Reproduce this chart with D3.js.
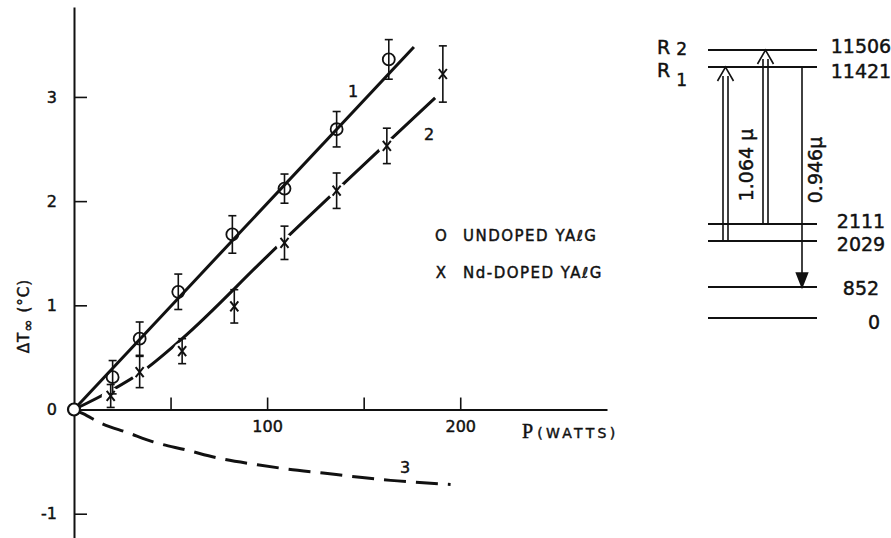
<!DOCTYPE html>
<html>
<head>
<meta charset="utf-8">
<script src="https://cdn.jsdelivr.net/npm/d3@7"></script>
<style>
  body { margin: 0; background: #fff; }
  svg text { font-family: "DejaVu Sans", sans-serif; fill: #111; stroke: #111; stroke-width: 0.45px; }
</style>
</head>
<body>
<div id="chart"></div>
<script>
// measured points, undoped YAlG (circles)
var undopedP   = [20, 34, 54, 82, 109, 136, 163];
var undopedT   = [0.31, 0.68, 1.13, 1.68, 2.12, 2.69, 3.36];
var undopedErr = [0.16, 0.16, 0.17, 0.18, 0.14, 0.17, 0.19];

// measured points, Nd-doped YAlG (crosses)
var ndP   = [19, 34, 56, 83, 109, 136, 162, 191];
var ndT   = [0.13, 0.36, 0.56, 0.99, 1.60, 2.10, 2.53, 3.22];
var ndErr = [0.11, 0.15, 0.12, 0.16, 0.16, 0.17, 0.17, 0.27];

// curves 1, 2, 3
var fit1P = [0, 176];
var fit1T = [0, 3.48];
var fit2P = [0, 20, 35, 56, 100, 187];
var fit2T = [0, 0.19, 0.36, 0.68, 1.47, 2.99];
var fit3P = [0, 4.7, 15, 27.5, 41, 58.5, 75.6, 95, 110, 129, 148, 164, 179, 195];
var fit3T = [0, -0.04, -0.14, -0.22, -0.31, -0.39, -0.47, -0.53, -0.57, -0.61, -0.65, -0.68, -0.70, -0.72];

var xTicks = [50, 100, 150, 200];
var xTickLabels = ["", "100", "", "200"];
var yTicks = [-1, 0, 1, 2, 3];
var yTickLabels = ["-1", "0", "1", "2", "3"];

var legendLabels = ["UNDOPED YA\u2113G", "Nd-DOPED YA\u2113G"];
var legendSymbols = ["O", "X"];

// energy levels (cm-1) for the Nd diagram
var levelValues = [11506, 11421, 2111, 2029, 852, 0];
var levelLabels = ["11506", "11421", "2111", "2029", "852", "0"];
var transFrom = [2029, 2111, 11421];
var transTo   = [11421, 11506, 852];
var transLabels = ["1.064 \u03bc", "", "0.946\u03bc"];

var width = 891, height = 538;

var svg = d3.select("#chart").append("svg")
    .attr("width", width)
    .attr("height", height);

var x = d3.scaleLinear().domain([0, 276]).range([74, 607]);
var y = d3.scaleLinear().domain([-1.233, 3.863]).range([538, 7]);

// axes
var xAxis = d3.axisBottom(x)
    .tickValues(xTicks)
    .tickSizeInner(-12)
    .tickSizeOuter(0)
    .tickPadding(11)
    .tickFormat(function(d, i) { return xTickLabels[i]; });

var gx = svg.append("g")
    .attr("transform", "translate(0," + y(0) + ")")
    .call(xAxis);
gx.select(".domain").attr("stroke-width", 2).attr("stroke", "#111");
gx.selectAll(".tick line").attr("stroke-width", 1.6).attr("stroke", "#111");
gx.selectAll(".tick text").style("font-size", "16px").attr("font-family", null);

var yAxis = d3.axisLeft(y)
    .tickValues(yTicks)
    .tickSizeInner(-13)
    .tickSizeOuter(0)
    .tickPadding(17)
    .tickFormat(function(d, i) { return yTickLabels[i]; });

var gy = svg.append("g")
    .attr("transform", "translate(" + x(0) + ",0)")
    .call(yAxis);
gy.select(".domain").attr("stroke-width", 2).attr("stroke", "#111");
gy.selectAll(".tick line").attr("stroke-width", 1.6).attr("stroke", "#111");
gy.selectAll(".tick text").style("font-size", "16px").attr("font-family", null);

// axis titles
var px = svg.append("text")
    .attr("x", 522).attr("y", 438);
px.append("tspan")
    .attr("font-family", "Liberation Serif, serif")
    .style("font-size", "20px")
    .text("P");
px.append("tspan")
    .attr("dx", 4)
    .style("font-size", "14px")
    .style("letter-spacing", "3.3px")
    .text("(WATTS)");

var yl = svg.append("text")
    .attr("transform", "translate(29,316) rotate(-90)")
    .attr("text-anchor", "middle")
    .style("font-size", "15px")
    .style("letter-spacing", "1px");
yl.append("tspan").text("\u0394T");
yl.append("tspan").attr("dy", 4).style("font-size", "15px").text("\u221e");
yl.append("tspan").attr("dy", -4).text(" (\u00b0C)");

// curves
var line = d3.line()
    .x(function(d) { return x(d[0]); })
    .y(function(d) { return y(d[1]); });
var curve = d3.line()
    .curve(d3.curveMonotoneX)
    .x(function(d) { return x(d[0]); })
    .y(function(d) { return y(d[1]); });

svg.append("path")
    .attr("d", line(d3.zip(fit1P, fit1T)))
    .attr("fill", "none").attr("stroke", "#111").attr("stroke-width", 3);

svg.append("path")
    .attr("d", curve(d3.zip(fit2P, fit2T)))
    .attr("fill", "none").attr("stroke", "#111").attr("stroke-width", 3);

svg.append("path")
    .attr("d", curve(d3.zip(fit3P, fit3T)))
    .attr("fill", "none").attr("stroke", "#111").attr("stroke-width", 3)
    .attr("stroke-dasharray", "22,10");

// curve 2 is broken where the crosses sit
svg.append("g").selectAll("circle")
    .data(d3.zip(ndP, ndT))
    .join("circle")
    .attr("cx", function(d) { return x(d[0]); })
    .attr("cy", function(d) { return y(d[1]); })
    .attr("r", 9)
    .attr("fill", "#fff");

function errorBars(P, T, E) {
    var g = svg.append("g").attr("stroke", "#111").attr("stroke-width", 1.6);
    var data = d3.zip(P, T, E);
    g.selectAll(".bar").data(data).join("line")
        .attr("x1", function(d) { return x(d[0]); })
        .attr("x2", function(d) { return x(d[0]); })
        .attr("y1", function(d) { return y(d[1] - d[2]); })
        .attr("y2", function(d) { return y(d[1] + d[2]); });
    [-1, 1].forEach(function(s) {
        g.selectAll(".cap" + s).data(data).join("line")
            .attr("x1", function(d) { return x(d[0]) - 4; })
            .attr("x2", function(d) { return x(d[0]) + 4; })
            .attr("y1", function(d) { return y(d[1] + s * d[2]); })
            .attr("y2", function(d) { return y(d[1] + s * d[2]); });
    });
}
errorBars(undopedP, undopedT, undopedErr);
errorBars(ndP, ndT, ndErr);

svg.append("g").selectAll("circle")
    .data(d3.zip(undopedP, undopedT))
    .join("circle")
    .attr("cx", function(d) { return x(d[0]); })
    .attr("cy", function(d) { return y(d[1]); })
    .attr("r", 6)
    .attr("fill", "none")
    .attr("stroke", "#111")
    .attr("stroke-width", 1.8);

svg.append("g").selectAll("path")
    .data(d3.zip(ndP, ndT))
    .join("path")
    .attr("d", function(d) {
        var cx = x(d[0]), cy = y(d[1]);
        return "M" + (cx - 4) + "," + (cy - 5) + "L" + (cx + 4) + "," + (cy + 5) +
               "M" + (cx + 4) + "," + (cy - 5) + "L" + (cx - 4) + "," + (cy + 5);
    })
    .attr("stroke", "#111")
    .attr("stroke-width", 2)
    .attr("fill", "none");

// the shared point at the origin
svg.append("circle")
    .attr("cx", x(0)).attr("cy", y(0)).attr("r", 6)
    .attr("fill", "#fff").attr("stroke", "#111").attr("stroke-width", 2.2);

// curve numbers
svg.append("text").attr("x", 353).attr("y", 97).attr("text-anchor", "middle")
    .style("font-size", "16px").text("1");
svg.append("text").attr("x", 429).attr("y", 140).attr("text-anchor", "middle")
    .style("font-size", "16px").text("2");
svg.append("text").attr("x", 405).attr("y", 473).attr("text-anchor", "middle")
    .style("font-size", "16px").text("3");

// legend
var leg = svg.append("g").selectAll("g")
    .data(legendLabels)
    .join("g")
    .attr("transform", function(d, i) { return "translate(0," + (241 + i * 37) + ")"; });
leg.append("text")
    .attr("x", 441).attr("text-anchor", "middle")
    .style("font-size", "15px")
    .text(function(d, i) { return legendSymbols[i]; });
leg.append("text")
    .attr("x", 463)
    .style("font-size", "15px")
    .style("letter-spacing", "1.5px")
    .text(function(d) { return d; });

// energy level diagram
var ey = d3.scaleLinear()
    .domain([0, 852, 2029, 2111, 11421, 11506])
    .range([318, 287, 241, 224, 67, 50]);
var labelNudge = [-4, 4, -3, 3, 1, 4];

var lev = svg.append("g");
lev.selectAll("line")
    .data(levelValues)
    .join("line")
    .attr("x1", 708).attr("x2", 817)
    .attr("y1", function(d) { return ey(d); })
    .attr("y2", function(d) { return ey(d); })
    .attr("stroke", "#111").attr("stroke-width", 2);
lev.selectAll("text")
    .data(levelValues)
    .join("text")
    .attr("x", function(d) { return d === 0 ? 874 : 861; })
    .attr("y", function(d, i) { return ey(d) + labelNudge[i]; })
    .attr("dy", "0.36em")
    .attr("text-anchor", "middle")
    .style("font-size", "19px")
    .text(function(d, i) { return levelLabels[i]; });

var r2 = svg.append("text").attr("x", 657).attr("y", 54).style("font-size", "19px");
r2.append("tspan").text("R");
r2.append("tspan").attr("dx", 6).attr("dy", 1).style("font-size", "17px").text("2");
var r1 = svg.append("text").attr("x", 657).attr("y", 77).style("font-size", "19px");
r1.append("tspan").text("R");
r1.append("tspan").attr("dx", 6).attr("dy", 9).style("font-size", "17px").text("1");

var arrowX = [725.5, 765.5, 802];
var arr = svg.append("g").attr("stroke", "#111").attr("fill", "none").attr("stroke-width", 1.6);
transFrom.forEach(function(f, i) {
    var ax = arrowX[i], y0 = ey(f), y1 = ey(transTo[i]);
    if (y1 < y0) {
        // hollow upward arrow
        arr.append("path").attr("d",
            "M" + (ax - 2.5) + "," + y0 + "V" + (y1 + 9) +
            "M" + (ax + 2.5) + "," + y0 + "V" + (y1 + 9) +
            "M" + (ax - 8) + "," + (y1 + 14) + "L" + ax + "," + y1 + "L" + (ax + 8) + "," + (y1 + 14));
    } else {
        arr.append("line").attr("x1", ax).attr("x2", ax)
            .attr("y1", y0).attr("y2", y1 - 12);
        arr.append("path")
            .attr("d", "M" + (ax - 5.5) + "," + (y1 - 14) + "L" + (ax + 5.5) + "," + (y1 - 14) + "L" + ax + "," + y1 + "Z")
            .attr("fill", "#111");
    }
});

svg.append("text")
    .attr("transform", "translate(746,165) rotate(-90)")
    .attr("text-anchor", "middle").attr("dy", "0.36em")
    .style("font-size", "19px")
    .text(transLabels[0]);
svg.append("text")
    .attr("transform", "translate(815,170) rotate(-90)")
    .attr("text-anchor", "middle").attr("dy", "0.36em")
    .style("font-size", "19px")
    .text(transLabels[2]);
</script>
</body>
</html>
